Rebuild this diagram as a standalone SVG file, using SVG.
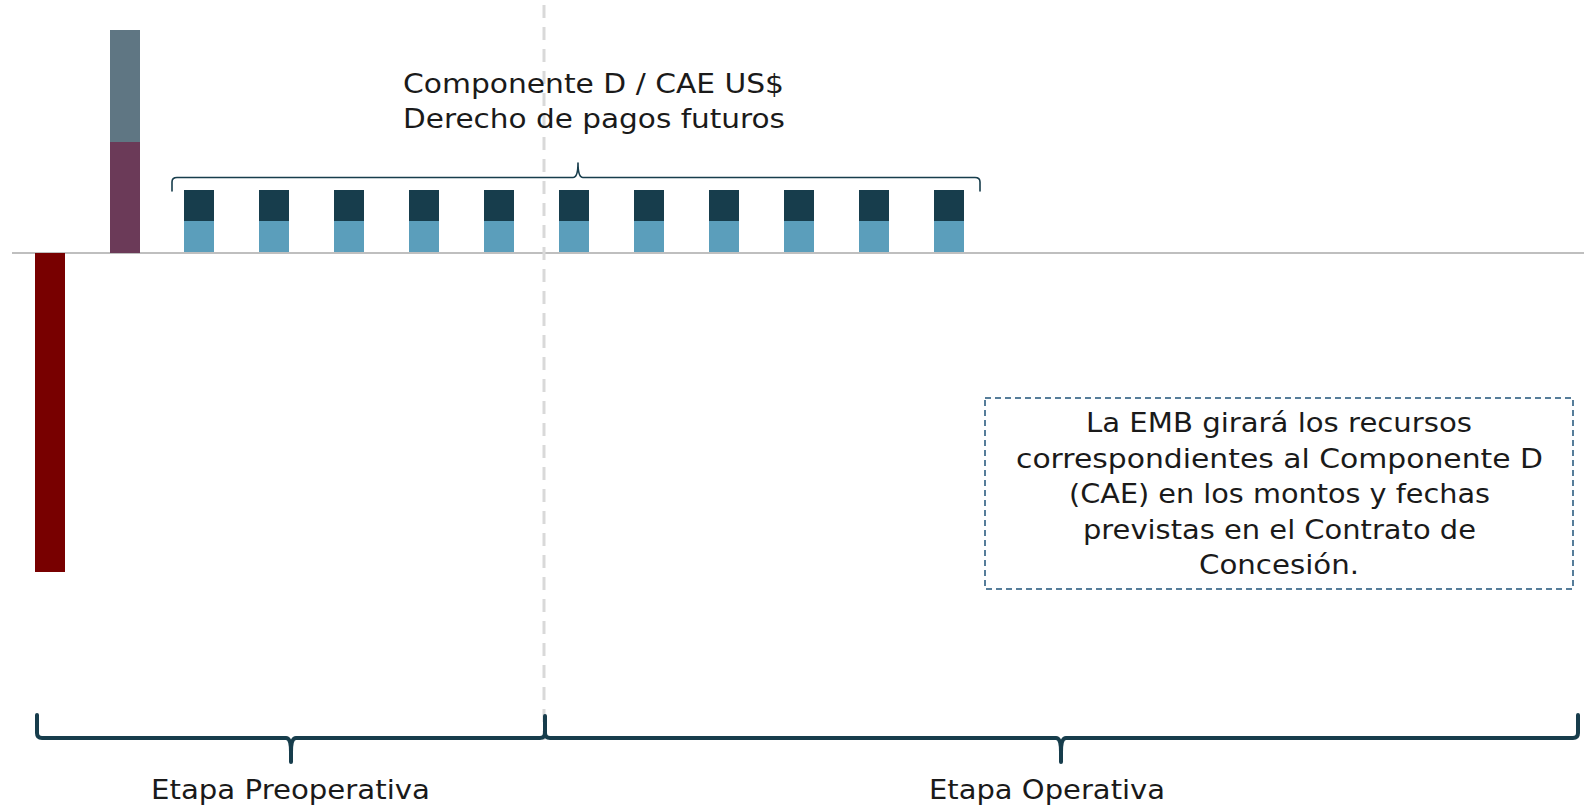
<svg xmlns="http://www.w3.org/2000/svg" width="1584" height="807" viewBox="0 0 1584 807">
<style>
.t{font-family:"DejaVu Sans","Liberation Sans",sans-serif;font-size:26px;fill:#1a1a1a;}
.c{text-anchor:middle;}
.pay-top{fill:#173d4c;}
.pay-bot{fill:#5b9ebb;}
.brace{fill:none;stroke:#173d4c;stroke-linejoin:round;stroke-linecap:round;}
</style>
<rect width="1584" height="807" fill="#ffffff"/>
<g id="axis">
<line x1="12" y1="253" x2="1584" y2="253" stroke="#bfbfbf" stroke-width="2"/>
</g>
<g id="divider">
<line x1="544" y1="5" x2="544" y2="740" stroke="#d9d9d9" stroke-width="3" stroke-dasharray="13,9"/>
</g>
<g id="bar-investment">
<rect x="35" y="253" width="30" height="319" fill="#780000"/>
</g>
<g id="bar-funding">
<rect x="110" y="30" width="30" height="112" fill="#5f7683"/>
<rect x="110" y="142" width="30" height="111" fill="#6b3a58"/>
</g>
<g id="payments">
<rect class="pay-top" x="184" y="190" width="30" height="31"/><rect class="pay-bot" x="184" y="221" width="30" height="31"/>
<rect class="pay-top" x="259" y="190" width="30" height="31"/><rect class="pay-bot" x="259" y="221" width="30" height="31"/>
<rect class="pay-top" x="334" y="190" width="30" height="31"/><rect class="pay-bot" x="334" y="221" width="30" height="31"/>
<rect class="pay-top" x="409" y="190" width="30" height="31"/><rect class="pay-bot" x="409" y="221" width="30" height="31"/>
<rect class="pay-top" x="484" y="190" width="30" height="31"/><rect class="pay-bot" x="484" y="221" width="30" height="31"/>
<rect class="pay-top" x="559" y="190" width="30" height="31"/><rect class="pay-bot" x="559" y="221" width="30" height="31"/>
<rect class="pay-top" x="634" y="190" width="30" height="31"/><rect class="pay-bot" x="634" y="221" width="30" height="31"/>
<rect class="pay-top" x="709" y="190" width="30" height="31"/><rect class="pay-bot" x="709" y="221" width="30" height="31"/>
<rect class="pay-top" x="784" y="190" width="30" height="31"/><rect class="pay-bot" x="784" y="221" width="30" height="31"/>
<rect class="pay-top" x="859" y="190" width="30" height="31"/><rect class="pay-bot" x="859" y="221" width="30" height="31"/>
<rect class="pay-top" x="934" y="190" width="30" height="31"/><rect class="pay-bot" x="934" y="221" width="30" height="31"/>
</g>
<g id="payments-brace">
<path class="brace" stroke-width="1.6" d="M172,191 L172,182 Q172,177.5 177,177.5 L573,177.5 Q578,177.5 578,163 Q578,177.5 583,177.5 L975,177.5 Q980,177.5 980,182 L980,191"/>
<text class="t" x="403" y="93" textLength="381" lengthAdjust="spacingAndGlyphs">Componente D / CAE US$</text>
<text class="t" x="403" y="128" textLength="382" lengthAdjust="spacingAndGlyphs">Derecho de pagos futuros</text>
</g>
<g id="stage-pre">
<path class="brace" stroke-width="4" d="M37,715 L37,733 Q37,738 42,738 L286,738 Q291,738 291,752 L291,762 M291,752 Q291,738 296,738 L540,738 Q545,738 545,733 L545,716"/>
<text class="t c" x="290.5" y="799" textLength="279" lengthAdjust="spacingAndGlyphs">Etapa Preoperativa</text>
</g>
<g id="stage-op">
<path class="brace" stroke-width="4" d="M545,733 Q545,738 550,738 L1056,738 Q1061,738 1061,752 L1061,762 M1061,752 Q1061,738 1066,738 L1573,738 Q1578,738 1578,733 L1578,715"/>
<text class="t c" x="1047" y="799" textLength="236" lengthAdjust="spacingAndGlyphs">Etapa Operativa</text>
</g>
<g id="note">
<rect x="985" y="398" width="588" height="191" fill="none" stroke="#1f5379" stroke-width="1.5" stroke-dasharray="6,4"/>
<text class="t c" x="1279" y="432" textLength="386" lengthAdjust="spacingAndGlyphs">La EMB girará los recursos</text>
<text class="t c" x="1279.5" y="467.5" textLength="527" lengthAdjust="spacingAndGlyphs">correspondientes al Componente D</text>
<text class="t c" x="1279.5" y="503" textLength="421" lengthAdjust="spacingAndGlyphs">(CAE) en los montos y fechas</text>
<text class="t c" x="1279.5" y="538.5" textLength="393" lengthAdjust="spacingAndGlyphs">previstas en el Contrato de</text>
<text class="t c" x="1279" y="574" textLength="160" lengthAdjust="spacingAndGlyphs">Concesión.</text>
</g>
</svg>
